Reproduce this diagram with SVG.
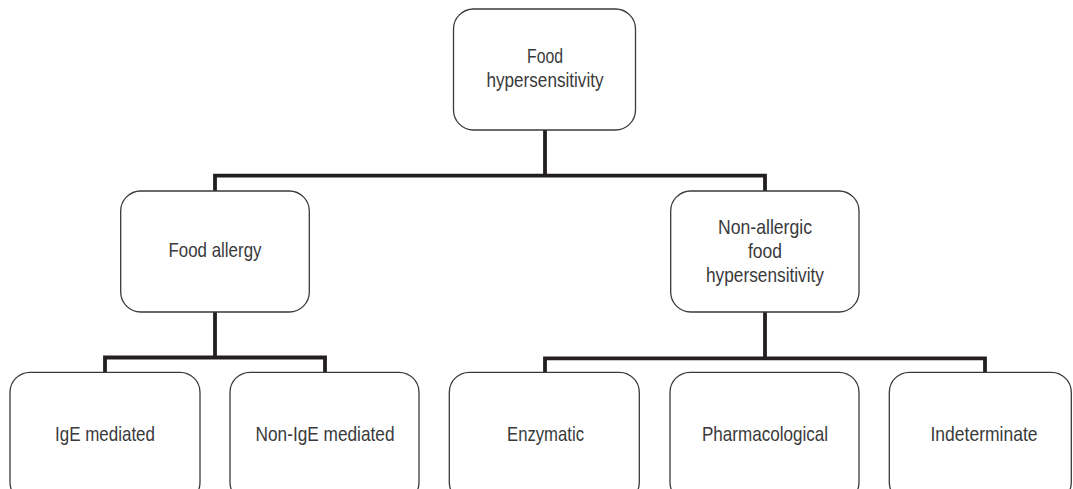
<svg xmlns="http://www.w3.org/2000/svg" width="1073" height="489" viewBox="0 0 1073 489">
<style>
.box{fill:#fff;stroke:#3a3a3a;stroke-width:1.3}
.lbl{font-family:"Liberation Sans",Arial,sans-serif;font-size:21px;fill:#3a3a3a;text-anchor:middle}
.con{fill:none;stroke:#231f20;stroke-width:3.8;stroke-linejoin:miter;stroke-linecap:butt}
</style>
<rect width="1073" height="489" fill="#fff"/>
<g id="connectors">
<path class="con" d="M545 130 V175.7"/>
<path class="con" d="M215 191 V175.7 H765 V191"/>
<path class="con" d="M215 312 V357.5"/>
<path class="con" d="M105 372.3 V357.5 H325 V372.3"/>
<path class="con" d="M765 312 V358.3"/>
<path class="con" d="M545 372.3 V358.3 H985 V372.3"/>
</g>
<g id="node-food-hypersensitivity">
<rect class="box" x="453.5" y="9" width="182" height="121" rx="20"/>
<text class="lbl" x="545" y="63" textLength="36" lengthAdjust="spacingAndGlyphs">Food</text>
<text class="lbl" x="545" y="87" textLength="117" lengthAdjust="spacingAndGlyphs">hypersensitivity</text>
</g>
<g id="node-food-allergy">
<rect class="box" x="120.7" y="191" width="188.6" height="121" rx="20"/>
<text class="lbl" x="215" y="257" textLength="93" lengthAdjust="spacingAndGlyphs">Food allergy</text>
</g>
<g id="node-non-allergic">
<rect class="box" x="670.7" y="191" width="188.3" height="121" rx="20"/>
<text class="lbl" x="765" y="234" textLength="94" lengthAdjust="spacingAndGlyphs">Non-allergic</text>
<text class="lbl" x="765" y="257.5" textLength="34" lengthAdjust="spacingAndGlyphs">food</text>
<text class="lbl" x="765" y="281.5" textLength="118" lengthAdjust="spacingAndGlyphs">hypersensitivity</text>
</g>
<g id="node-ige">
<rect class="box" x="10" y="372.3" width="190" height="130" rx="20"/>
<text class="lbl" x="105" y="441" textLength="100" lengthAdjust="spacingAndGlyphs">IgE mediated</text>
</g>
<g id="node-non-ige">
<rect class="box" x="230" y="372.3" width="189" height="130" rx="20"/>
<text class="lbl" x="325" y="441" textLength="139" lengthAdjust="spacingAndGlyphs">Non-IgE mediated</text>
</g>
<g id="node-enzymatic">
<rect class="box" x="449.3" y="372.3" width="190" height="130" rx="20"/>
<text class="lbl" x="545.5" y="441" textLength="77" lengthAdjust="spacingAndGlyphs">Enzymatic</text>
</g>
<g id="node-pharmacological">
<rect class="box" x="670" y="372.3" width="189" height="130" rx="20"/>
<text class="lbl" x="765" y="441" textLength="126" lengthAdjust="spacingAndGlyphs">Pharmacological</text>
</g>
<g id="node-indeterminate">
<rect class="box" x="889.3" y="372.3" width="182" height="130" rx="20"/>
<text class="lbl" x="984" y="441" textLength="107" lengthAdjust="spacingAndGlyphs">Indeterminate</text>
</g>
</svg>
